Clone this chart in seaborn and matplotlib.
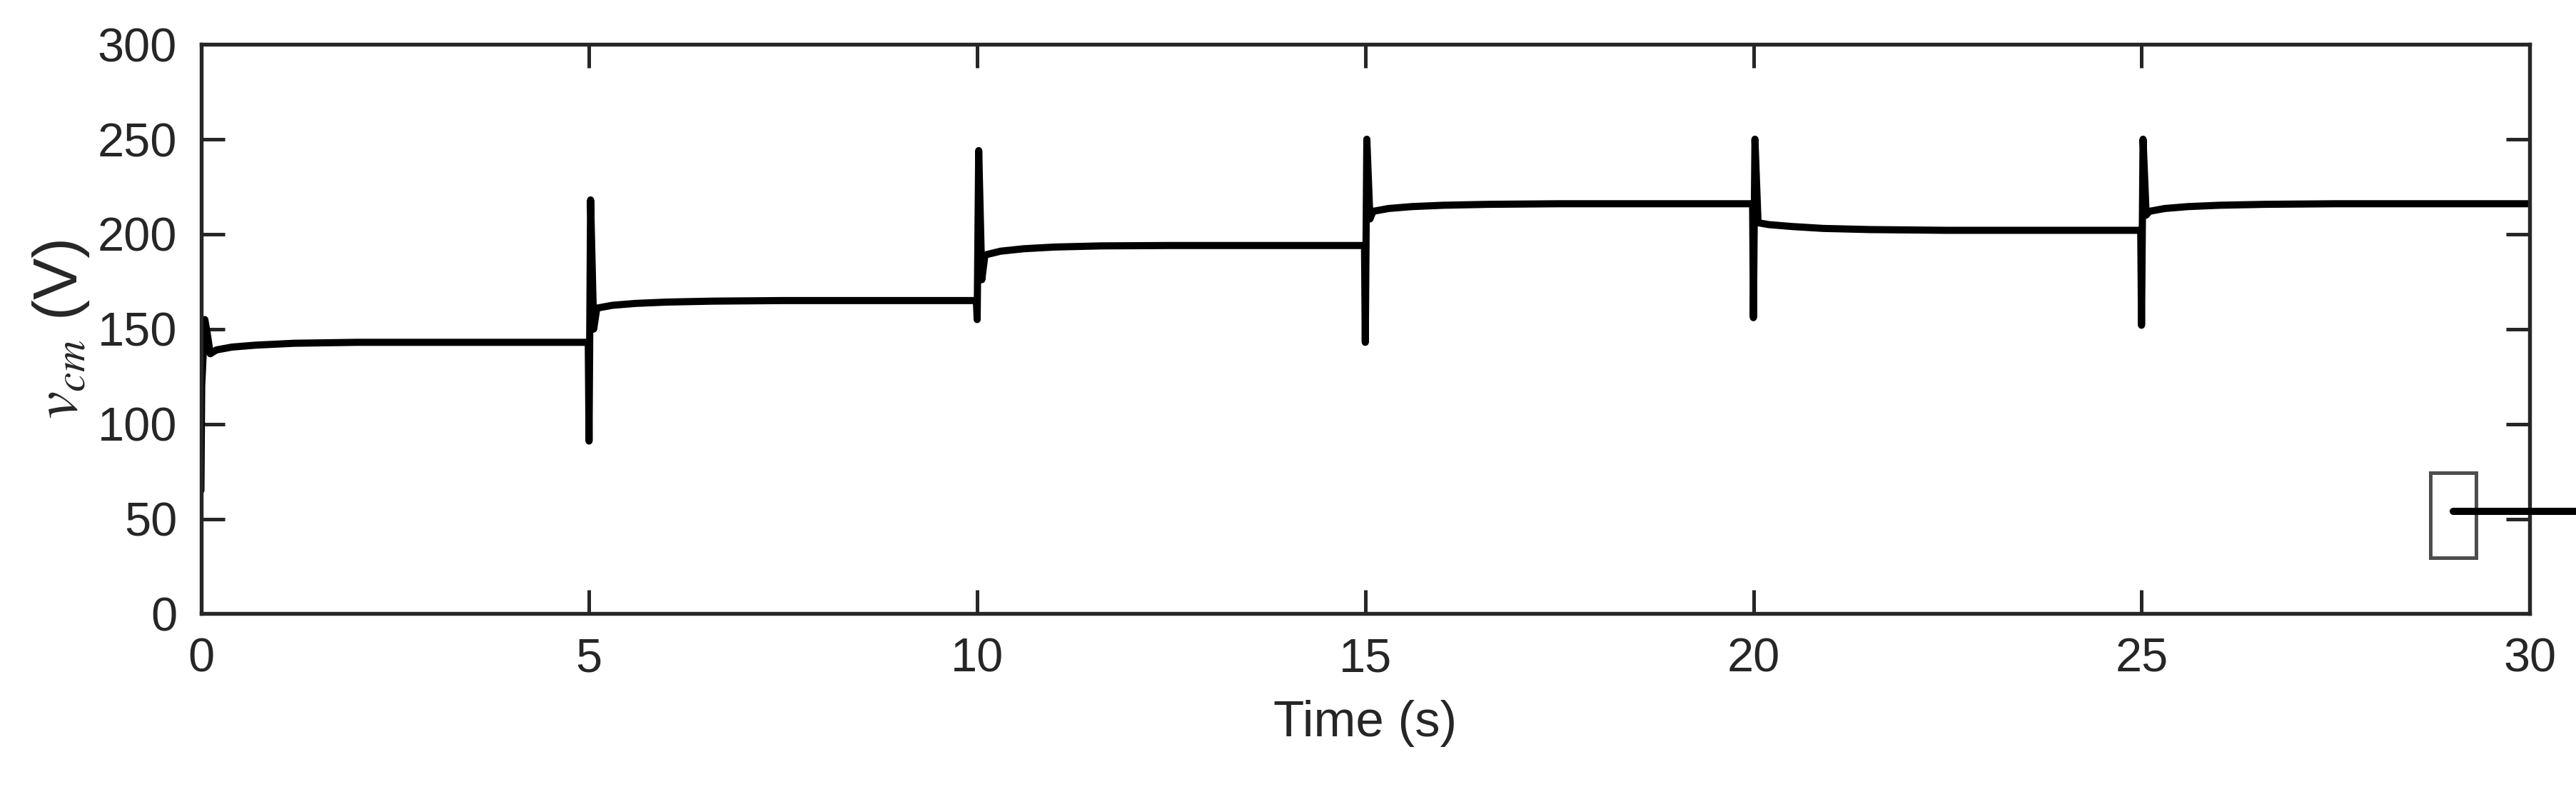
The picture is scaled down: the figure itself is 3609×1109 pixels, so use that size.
import matplotlib
matplotlib.use("Agg")
import matplotlib.pyplot as plt
import pandas as pd
import seaborn as sns

sns.set_style("ticks")
plt.rcParams["font.family"] = ["Liberation Sans", "DejaVu Sans"]
plt.rcParams["mathtext.fontset"] = "stix"

# capacitor voltage response
time_s = [0.0, 0.01, 0.05, 0.08, 0.12, 0.2, 0.4, 0.7, 1.2, 2.0, 4.99,
          5.0, 5.02, 5.06, 5.1, 5.3, 5.6, 6.0, 6.6, 7.5, 9.99,
          10.0, 10.02, 10.06, 10.1, 10.3, 10.6, 11.0, 11.6, 12.5, 14.99,
          15.0, 15.02, 15.06, 15.1, 15.3, 15.6, 16.0, 16.6, 17.5, 19.99,
          20.0, 20.02, 20.06, 20.2, 20.5, 20.9, 21.5, 22.5, 24.99,
          25.0, 25.02, 25.06, 25.1, 25.3, 25.6, 26.0, 26.6, 27.5, 30.0]
v_cm = [65, 120, 155, 148, 137, 139, 140.5, 141.5, 142.5, 143, 143,
        91, 218, 150, 161, 162.5, 163.5, 164.2, 164.7, 165, 165,
        155, 244, 176, 189, 191, 192.3, 193.2, 193.8, 194, 194,
        143, 250, 208, 212, 213.5, 214.5, 215.2, 215.7, 216, 216,
        156, 250, 206, 205, 204, 203, 202.4, 202, 202,
        152, 250, 210, 212, 213.5, 214.5, 215.2, 215.7, 216, 216]
x_ticks = [0, 5, 10, 15, 20, 25, 30]
y_ticks = [0, 50, 100, 150, 200, 250, 300]

df = pd.DataFrame({"t": time_s, "v": v_cm})

fig, ax = plt.subplots(figsize=(12.03, 3.697), dpi=300)
fig.subplots_adjust(left=0.078, right=0.982, top=0.944, bottom=0.225)

sns.lineplot(data=df, x="t", y="v", ax=ax, color="black", linewidth=2.4,
             label="NNA FOFPID", estimator=None, sort=False)

ax.set_xlim(0, 30)
ax.set_ylim(0, 300)
ax.set_xticks(x_ticks)
ax.set_yticks(y_ticks)
ax.tick_params(direction="in", top=True, right=True, labelsize=16,
               width=1.2, length=8, pad=8)
for s in ax.spines.values():
    s.set_linewidth(1.3)
ax.set_xlabel("Time (s)", fontsize=17, labelpad=6)
ax.set_ylabel(r"$v_{cm}$ (V)", fontsize=21, labelpad=2)

leg = ax.legend(loc="lower right", bbox_to_anchor=(0.977, 0.099), fontsize=14,
                frameon=True, fancybox=False, edgecolor="#222222",
                handlelength=4.0, borderpad=0.55, borderaxespad=0,
                handletextpad=0.5)
leg.get_frame().set_linewidth(1.2)
leg.get_frame().set_boxstyle("square", pad=0.0)
# widen frame so text sits left of centre like the reference
for h in leg.legend_handles:
    h.set_linewidth(2.4)
leg._legend_box.sep = 0
leg.set_bbox_to_anchor((0.977, 0.099))

fig.canvas.draw()
bb = leg.get_window_extent().transformed(ax.transAxes.inverted())
if bb.width < 0.255:
    leg._legend_box.align = "left"
    # pad via text padding to reach reference width
    extra = 0.255 - bb.width
    ax_w = ax.get_window_extent().width
    leg.texts[0].set_text("NNA FOFPID")
    pad_pts = extra * ax_w * 72 / fig.dpi
    leg._legend_handle_box.set_width(0)
    leg._legend_box.pad = leg._legend_box.pad

fig.savefig("out.png", dpi=300)
